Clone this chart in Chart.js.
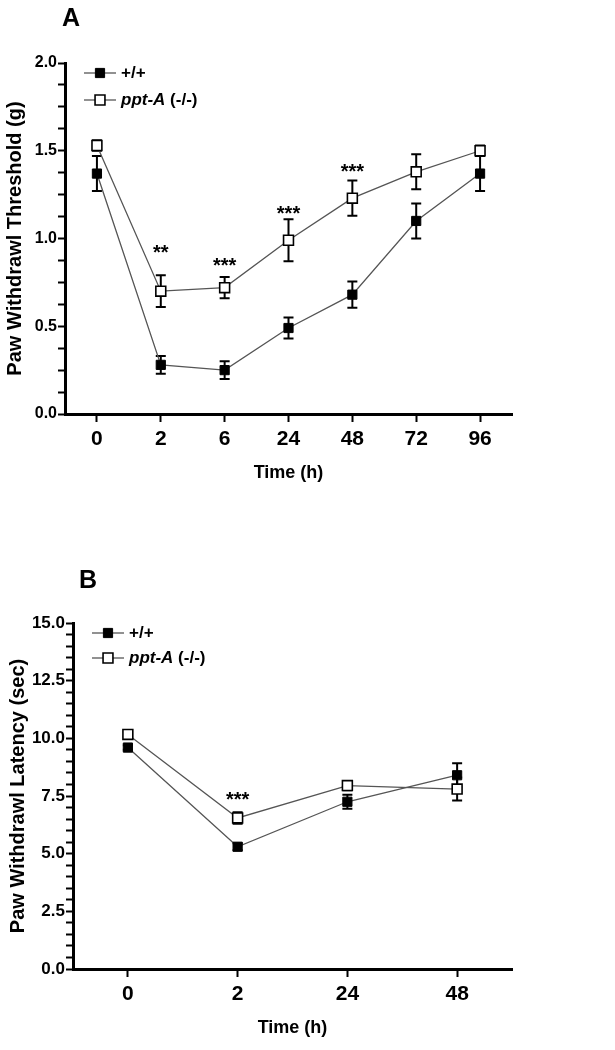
<!DOCTYPE html>
<html>
<head>
<meta charset="utf-8">
<script src="https://cdn.jsdelivr.net/npm/chart.js@4.4.1/dist/chart.umd.min.js"></script>
<style>
  body { margin: 0; background: #fff; }
  #wrapA { position: absolute; left: 0; top: 0; width: 615px; height: 500px; }
  #wrapB { position: absolute; left: 0; top: 500px; width: 615px; height: 550px; }
</style>
</head>
<body>
<div id="wrapA"><canvas id="chartA" width="615" height="500"></canvas></div>
<div id="wrapB"><canvas id="chartB" width="615" height="550"></canvas></div>
<script>
// Panel A - mechanical threshold
const timesA = ['0', '2', '6', '24', '48', '72', '96'];
const wildA = [1.37, 0.28, 0.25, 0.49, 0.68, 1.10, 1.37];
const wildErrA = [0.10, 0.05, 0.05, 0.06, 0.075, 0.10, 0.10];
const pptA = [1.53, 0.70, 0.72, 0.99, 1.23, 1.38, 1.50];
const pptErrA = [0.03, 0.09, 0.06, 0.12, 0.10, 0.10, 0.03];
const starsA = ['', '**', '***', '***', '***', '', ''];
const starLevelA = [null, 0.95, 0.875, 1.175, 1.415, null, null];

// Panel B - thermal latency
const timesB = ['0', '2', '24', '48'];
const wildB = [9.6, 5.3, 7.25, 8.4];
const wildErrB = [0.1, 0.15, 0.3, 0.52];
const pptB = [10.17, 6.55, 7.95, 7.8];
const pptErrB = [0.1, 0.25, 0.2, 0.5];
const starsB = ['', '***', '', ''];
const starLevelB = [null, 7.6, null, null];

const seriesNames = ['+/+', 'ppt-A (-/-)'];

const FONT = '"Liberation Sans", Arial, Helvetica, sans-serif';
Chart.defaults.font.family = FONT;
Chart.defaults.font.weight = 'bold';
Chart.defaults.color = '#000';

// error bars under the markers
const errorBars = {
    id: 'errorBars',
    beforeDatasetsDraw(chart) {
        const ctx = chart.ctx;
        const y = chart.scales.y;
        ctx.save();
        ctx.strokeStyle = '#000';
        ctx.lineWidth = 2;
        chart.data.datasets.forEach((ds, i) => {
            const meta = chart.getDatasetMeta(i);
            ds.errors.forEach((e, j) => {
                const x = meta.data[j].x;
                const top = y.getPixelForValue(ds.data[j] + e);
                const bot = y.getPixelForValue(ds.data[j] - e);
                ctx.beginPath();
                ctx.moveTo(x, top); ctx.lineTo(x, bot);
                ctx.moveTo(x - 5, top); ctx.lineTo(x + 5, top);
                ctx.moveTo(x - 5, bot); ctx.lineTo(x + 5, bot);
                ctx.stroke();
            });
        });
        ctx.restore();
    }
};

// panel letter, legend, significance stars
const decor = {
    id: 'decor',
    afterDraw(chart, args, o) {
        const ctx = chart.ctx;
        ctx.save();
        ctx.fillStyle = '#000';
        ctx.textBaseline = 'middle';
        ctx.textAlign = 'left';
        ctx.font = 'bold 25px ' + FONT;
        ctx.fillText(o.letter, o.letterX, o.letterY);

        // legend
        chart.data.datasets.forEach((ds, i) => {
            const ly = o.legendY[i];
            const lx = o.legendX;
            ctx.strokeStyle = ds.borderColor;
            ctx.lineWidth = 1.3;
            ctx.beginPath();
            ctx.moveTo(lx, ly); ctx.lineTo(lx + 32, ly);
            ctx.stroke();
            ctx.fillStyle = ds.pointBackgroundColor;
            ctx.strokeStyle = ds.pointBorderColor;
            ctx.lineWidth = ds.pointBorderWidth;
            Chart.helpers.drawPoint(ctx, {pointStyle: 'rect', radius: ds.pointRadius, borderWidth: ds.pointBorderWidth}, lx + 16, ly);
            ctx.fillStyle = '#000';
            const name = seriesNames[i];
            let tx = lx + 37;
            if (i === 1) {
                const parts = name.split(' ');
                ctx.font = 'italic bold 17px ' + FONT;
                ctx.fillText(parts[0], tx, ly);
                tx += ctx.measureText(parts[0]).width;
                ctx.font = 'bold 17px ' + FONT;
                ctx.fillText(' ' + parts[1], tx, ly);
            } else {
                ctx.font = 'bold 17px ' + FONT;
                ctx.fillText(name, tx, ly);
            }
        });

        // stars
        const meta = chart.getDatasetMeta(1);
        ctx.font = 'bold 20px ' + FONT;
        ctx.textAlign = 'center';
        ctx.textBaseline = 'alphabetic';
        o.stars.forEach((s, j) => {
            if (!s) return;
            const py = chart.scales.y.getPixelForValue(o.starLevel[j]);
            ctx.fillText(s, meta.data[j].x, py + 12);
        });
        ctx.restore();
    }
};

function makeChart(id, labels, wild, wildErr, ppt, pptErr, cfg) {
    return new Chart(document.getElementById(id), {
        type: 'line',
        data: {
            labels: labels,
            datasets: [
                {
                    label: seriesNames[0],
                    data: wild,
                    errors: wildErr,
                    borderColor: '#555',
                    borderWidth: 1.3,
                    pointStyle: 'rect',
                    pointRadius: 6.5,
                    pointBackgroundColor: '#000',
                    pointBorderColor: '#000',
                    pointBorderWidth: 1,
                    tension: 0
                },
                {
                    label: seriesNames[1],
                    data: ppt,
                    errors: pptErr,
                    borderColor: '#555',
                    borderWidth: 1.3,
                    pointStyle: 'rect',
                    pointRadius: 7,
                    pointBackgroundColor: '#fff',
                    pointBorderColor: '#000',
                    pointBorderWidth: 1.6,
                    tension: 0
                }
            ]
        },
        options: {
            responsive: false,
            animation: false,
            events: [],
            layout: { padding: { top: cfg.padTop, right: 103, left: 0, bottom: 0 } },
            plugins: {
                legend: { display: false },
                tooltip: { enabled: false },
                decor: cfg.decor
            },
            scales: {
                x: {
                    offset: true,
                    afterFit: s => { s.height = cfg.xHeight; },
                    grid: { drawOnChartArea: false, tickLength: 8, tickColor: '#000', tickWidth: 2 },
                    border: { display: true, color: '#000', width: 3 },
                    ticks: { font: { size: 21, weight: 'bold' }, color: '#000', padding: 5 },
                    title: {
                        display: true,
                        text: 'Time (h)',
                        font: { size: 18, weight: 'bold' },
                        color: '#000',
                        padding: { top: 0, bottom: cfg.xTitlePad }
                    }
                },
                y: {
                    min: 0,
                    max: cfg.yMax,
                    afterFit: s => { s.width = cfg.yWidth; },
                    grid: { drawOnChartArea: false, tickLength: 7, tickColor: '#000', tickWidth: 2 },
                    border: { display: true, color: '#000', width: 3 },
                    ticks: {
                        stepSize: cfg.minorStep,
                        autoSkip: false,
                        padding: 1,
                        color: '#000',
                        font: { size: cfg.yFont, weight: 'bold' },
                        callback: v => (Math.abs(v / cfg.majorStep - Math.round(v / cfg.majorStep)) < 1e-6 ? v.toFixed(1) : '')
                    },
                    title: {
                        display: true,
                        text: cfg.yTitle,
                        font: { size: 20, weight: 'bold' },
                        color: '#000',
                        padding: { top: cfg.yTitlePad, bottom: 0 }
                    }
                }
            }
        },
        plugins: [errorBars, decor]
    });
}

makeChart('chartA', timesA, wildA, wildErrA, pptA, pptErrA, {
    padTop: 63, xHeight: 86, xTitlePad: 16, yWidth: 65, yTitlePad: 3,
    yMax: 2, minorStep: 0.125, majorStep: 0.5, yFont: 16,
    yTitle: 'Paw Withdrawl Threshold (g)',
    decor: { letter: 'A', letterX: 62, letterY: 19, legendX: 84, legendY: [73, 100], stars: starsA, starLevel: starLevelA }
});

makeChart('chartB', timesB, wildB, wildErrB, pptB, pptErrB, {
    padTop: 123, xHeight: 81, xTitlePad: 11, yWidth: 73, yTitlePad: 6,
    yMax: 15, minorStep: 0.5, majorStep: 2.5, yFont: 17,
    yTitle: 'Paw Withdrawl Latency (sec)',
    decor: { letter: 'B', letterX: 79, letterY: 81, legendX: 92, legendY: [133, 158], stars: starsB, starLevel: starLevelB }
});
</script>
</body>
</html>
